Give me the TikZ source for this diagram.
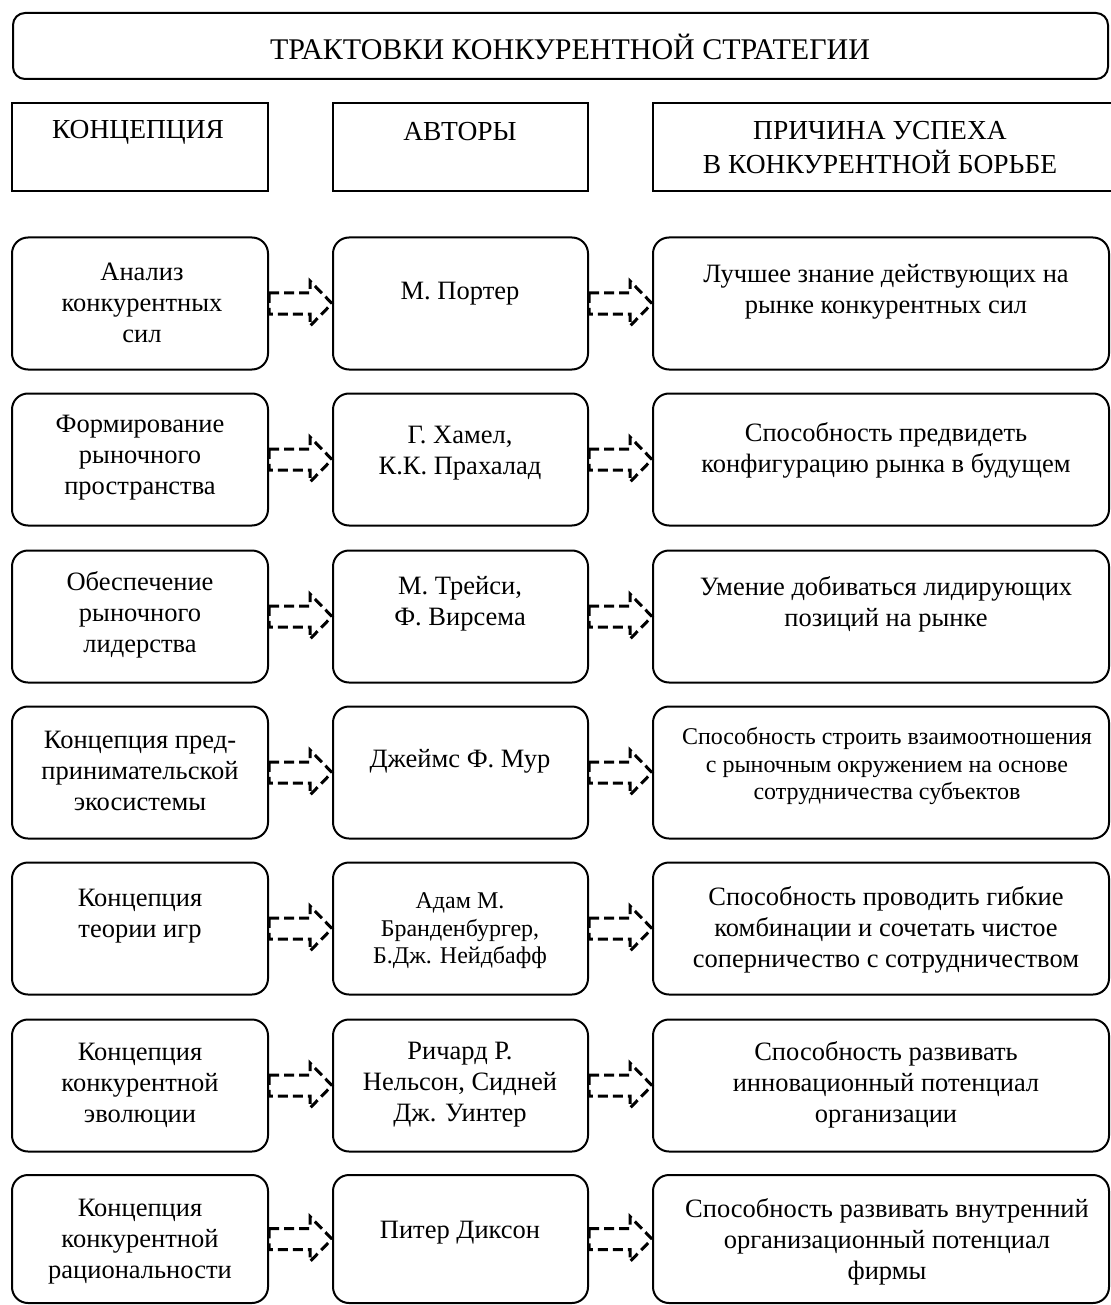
\documentclass[tikz,border=0pt]{standalone}
\usepackage{fontspec}
\setmainfont{Liberation Serif}
\usetikzlibrary{calc}

\tikzset{
  box/.style={draw, line width=2pt, inner sep=0pt, minimum height=132pt},
  rbox/.style={box, rounded corners=16pt},
  hbox/.style={draw, line width=2pt, inner sep=0pt, minimum height=88pt},
  kol/.style={minimum width=256pt},
  akol/.style={minimum width=255pt},
  pkol/.style={minimum width=456pt},
  txt/.style={align=center, inner sep=0pt, font=\fontsize{26.5}{31}\selectfont},
  smalltxt/.style={txt, font=\fontsize{24}{27.5}\selectfont},
  headtxt/.style={txt, font=\fontsize{27.5}{34}\selectfont},
  darrow/.style={line width=3pt, dash pattern=on 10pt off 5pt},
}

% hollow dashed arrow between two boxes of one row
\newcommand{\hollowarrow}[2]{%
  \draw[darrow] ($(#1.east)+(0,-10.5)$) -- ($(#2.west)+(-22,-10.5)$)
    -- ($(#2.west)+(-22,-22.5)$) -- (#2.west) -- ($(#2.west)+(-22,22.5)$)
    -- ($(#2.west)+(-22,10.5)$) -- ($(#1.east)+(0,10.5)$) -- cycle;}

\begin{document}
\begin{tikzpicture}[x=1pt, y=-1pt]
  \useasboundingbox (0,0) rectangle (1110,1305);

  % title
  \node[draw, line width=2pt, rounded corners=12pt, minimum width=1095pt, minimum height=66pt] (title) at (560.5,46) {};
  \node[headtxt, font=\fontsize{30}{34}\selectfont] (titlet) at (570,47) {ТРАКТОВКИ КОНКУРЕНТНОЙ СТРАТЕГИИ};

  % column heads
  \node[hbox, kol] (hk) at (140,147) {};
  \node[hbox, akol] (ha) at (460.5,147) {};
  \node[hbox, minimum width=470pt] (hp) at (888,147) {};
  \node[headtxt] (hkt) at (138,132) {КОНЦЕПЦИЯ};
  \node[headtxt] (hat) at (460,132) {АВТОРЫ};
  \node[headtxt] (hpt) at (880,148) {ПРИЧИНА УСПЕХА\\В КОНКУРЕНТНОЙ БОРЬБЕ};

  % row 1
  \node[rbox, kol] (k1) at (140,303.5) {};
  \node[rbox, akol] (a1) at (460.5,303.5) {};
  \node[rbox, pkol] (p1) at (881,303.5) {};
  \node[txt] (k1t) at (142,303) {Анализ\\конкурентных\\сил};
  \node[txt] (a1t) at (460,294) {М. Портер};
  \node[txt] (p1t) at (886,292) {Лучшее знание действующих на\\рынке конкурентных сил};

  % row 2
  \node[rbox, kol] (k2) at (140,459.5) {};
  \node[rbox, akol] (a2) at (460.5,459.5) {};
  \node[rbox, pkol] (p2) at (881,459.5) {};
  \node[txt] (k2t) at (140,458) {Формирование\\рыночного\\пространства};
  \node[txt] (a2t) at (460,453) {Г. Хамел,\\К.К. Прахалад};
  \node[txt] (p2t) at (886,450) {Способность предвидеть\\конфигурацию рынка в будущем};

  % row 3
  \node[rbox, kol] (k3) at (140,616.5) {};
  \node[rbox, akol] (a3) at (460.5,616.5) {};
  \node[rbox, pkol] (p3) at (881,616.5) {};
  \node[txt] (k3t) at (140,615) {Обеспечение\\рыночного\\лидерства};
  \node[txt] (a3t) at (460,604) {М. Трейси,\\Ф. Вирсема};
  \node[txt] (p3t) at (886,604) {Умение добиваться лидирующих\\позиций на рынке};

  % row 4
  \node[rbox, kol] (k4) at (140,772.5) {};
  \node[rbox, akol] (a4) at (460.5,772.5) {};
  \node[rbox, pkol] (p4) at (881,772.5) {};
  \node[txt] (k4t) at (140,771) {Концепция пред-\\принимательской\\экосистемы};
  \node[txt] (a4t) at (460,761) {Джеймс Ф. Мур};
  \node[smalltxt] (p4t) at (887,766) {Способность строить взаимоотношения\\с рыночным окружением на основе\\сотрудничества субъектов};

  % row 5
  \node[rbox, kol] (k5) at (140,928.5) {};
  \node[rbox, akol] (a5) at (460.5,928.5) {};
  \node[rbox, pkol] (p5) at (881,928.5) {};
  \node[txt] (k5t) at (140,916) {Концепция\\теории игр};
  \node[smalltxt] (a5t) at (460,931) {Адам М.\\Бранденбургер,\\Б.Дж. Нейдбафф};
  \node[txt] (p5t) at (886,930) {Способность проводить гибкие\\комбинации и сочетать чистое\\соперничество с сотрудничеством};

  % row 6
  \node[rbox, kol] (k6) at (140,1085.5) {};
  \node[rbox, akol] (a6) at (460.5,1085.5) {};
  \node[rbox, pkol] (p6) at (881,1085.5) {};
  \node[txt] (k6t) at (140,1085) {Концепция\\конкурентной\\эволюции};
  \node[txt] (a6t) at (460,1085) {Ричард Р.\\Нельсон, Сидней\\Дж. Уинтер};
  \node[txt] (p6t) at (886,1085) {Способность развивать\\инновационный потенциал\\организации};

  % row 7
  \node[rbox, kol, minimum height=128pt] (k7) at (140,1239) {};
  \node[rbox, akol, minimum height=128pt] (a7) at (460.5,1239) {};
  \node[rbox, pkol, minimum height=128pt] (p7) at (881,1239) {};
  \node[txt] (k7t) at (140,1242) {Концепция\\конкурентной\\рациональности};
  \node[txt] (a7t) at (460,1233) {Питер Диксон};
  \node[txt] (p7t) at (887,1242) {Способность развивать внутренний\\организационный потенциал\\фирмы};

  % arrows
  \foreach \i in {1,...,7} {
    \hollowarrow{k\i}{a\i}
    \hollowarrow{a\i}{p\i}
  }
\end{tikzpicture}
\end{document}
